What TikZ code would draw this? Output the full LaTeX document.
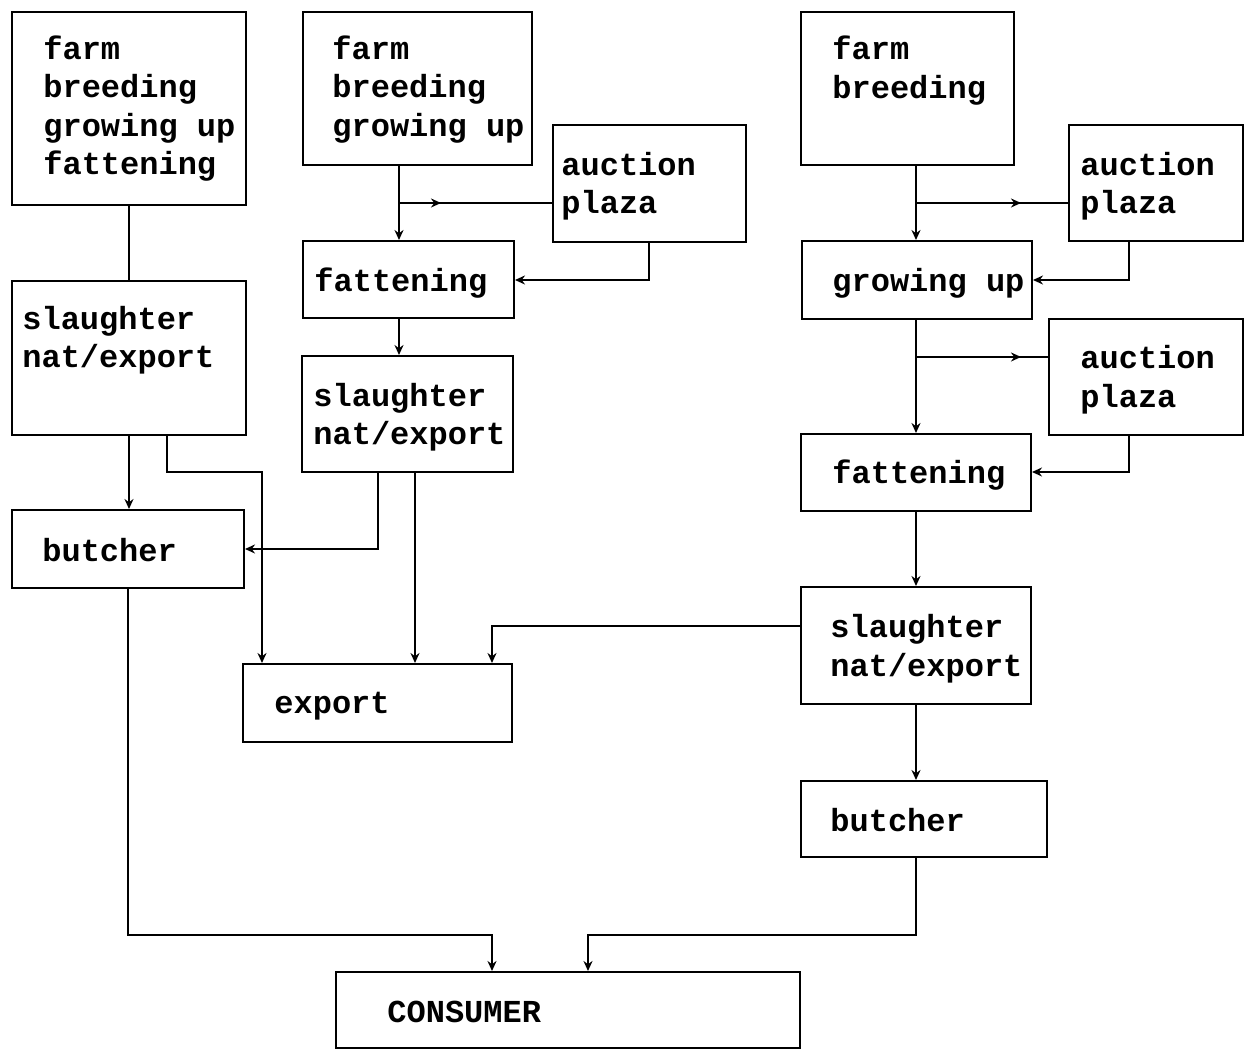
\documentclass[tikz,border=0pt]{standalone}
\usepackage{fontspec}
\newfontfamily\tyfont{Liberation Mono}
\usetikzlibrary{fit,arrows.meta}
\tikzset{
  bx/.style={draw, line width=1pt, inner sep=0pt},
  lbl/.style={font=\tyfont\bfseries\fontsize{16}{19.25}\selectfont, align=left, inner sep=0pt, anchor=west},
  wire/.style={line width=1pt},
  arw/.style={line width=1pt, -{Stealth[length=5pt,width=4.5pt]}},
}
\begin{document}
\begin{tikzpicture}[x=0.5pt,y=-0.5pt]
\useasboundingbox (0,0) rectangle (1244,1053);
% boxes
\node[bx, fit={(12,12) (246,205)}] (A) {};
\node[bx, fit={(303,12) (532,165)}] (B) {};
\node[bx, fit={(553,125) (746,242)}] (C) {};
\node[bx, fit={(303,241) (514,318)}] (D) {};
\node[bx, fit={(12,281) (246,435)}] (E) {};
\node[bx, fit={(302,356) (513,472)}] (F) {};
\node[bx, fit={(12,510) (244,588)}] (G) {};
\node[bx, fit={(243,664) (512,742)}] (H) {};
\node[bx, fit={(336,972) (800,1048)}] (I) {};
\node[bx, fit={(801,12) (1014,165)}] (J) {};
\node[bx, fit={(1069,125) (1243,241)}] (K) {};
\node[bx, fit={(802,241) (1032,319)}] (L) {};
\node[bx, fit={(1049,319) (1243,435)}] (M) {};
\node[bx, fit={(801,434) (1031,511)}] (N) {};
\node[bx, fit={(801,587) (1031,704)}] (O) {};
\node[bx, fit={(801,781) (1047,857)}] (P) {};
% labels
\node[lbl] (At) at (43,108.5) {farm\\breeding\\growing up\\fattening};
\node[lbl] (Bt) at (332,89.5) {farm\\breeding\\growing up};
\node[lbl] (Ct) at (561,186) {auction\\plaza};
\node[lbl] (Dt) at (314,283) {fattening};
\node[lbl] (Et) at (22,340) {slaughter\\nat/export};
\node[lbl] (Ft) at (313,417) {slaughter\\nat/export};
\node[lbl] (Gt) at (42,550) {butcher};
\node[lbl] (Ht) at (274,706) {export};
\node[lbl] (It) at (387,1012) {CONSUMER};
\node[lbl] (Jt) at (832,70.5) {farm\\breeding};
\node[lbl] (Kt) at (1080,186) {auction\\plaza};
\node[lbl] (Lt) at (832,283) {growing up};
\node[lbl] (Mt) at (1080,379.5) {auction\\plaza};
\node[lbl] (Nt) at (832,475) {fattening};
\node[lbl] (Ot) at (830,648.5) {slaughter\\nat/export};
\node[lbl] (Pt) at (830,820) {butcher};
% helper coordinates
\coordinate (eh1) at (167,472); \coordinate (eh2) at (262,472);
\coordinate (fg) at (378,549);
\coordinate (fh) at (415,600);
\coordinate (oh) at (492,626);
\coordinate (gi) at (492,935);
\coordinate (pi1) at (916,935); \coordinate (pi2) at (588,935);
\coordinate (bd) at (399,203); \coordinate (bdm) at (441,203);
\coordinate (cd) at (649,280);
\coordinate (jl) at (916,203); \coordinate (jlm) at (1021,203);
\coordinate (kl) at (1129,280);
\coordinate (lnc) at (916,357); \coordinate (lncm) at (1021,357);
\coordinate (mn) at (1129,472);
% left column
\draw[wire] (A.south) -- (E.north);
\draw[arw] (E.south) -- (E.south |- G.north);
\draw[arw] (E.south -| eh1) -- (eh1) -- (eh2) -- (eh2 |- H.north);
\draw[arw] (G.south) -- (G.south |- gi) -- (gi) -- (gi |- I.north);
% middle column
\draw[arw] (B.south -| bd) -- (bd |- D.north);
\draw[wire] (bd) -- (bd -| C.west);
\draw[arw] (bd) -- (bdm);
\draw[arw] (C.south -| cd) -- (cd) -- (cd -| D.east);
\draw[arw] (D.south -| bd) -- (bd |- F.north);
\draw[arw] (F.south -| fg) -- (fg) -- (fg -| G.east);
\draw[arw] (F.south -| fh) -- (fh |- H.north);
% right column
\draw[arw] (J.south -| jl) -- (jl |- L.north);
\draw[wire] (jl) -- (jl -| K.west);
\draw[arw] (jl) -- (jlm);
\draw[arw] (K.south -| kl) -- (kl) -- (kl -| L.east);
\draw[arw] (L.south -| lnc) -- (lnc |- N.north);
\draw[wire] (lnc) -- (lnc -| M.west);
\draw[arw] (lnc) -- (lncm);
\draw[arw] (M.south -| mn) -- (mn) -- (mn -| N.east);
\draw[arw] (N.south -| jl) -- (jl |- O.north);
\draw[arw] (O.west |- oh) -- (oh) -- (oh |- H.north);
\draw[arw] (O.south -| jl) -- (jl |- P.north);
\draw[arw] (P.south -| pi1) -- (pi1) -- (pi2) -- (pi2 |- I.north);
\end{tikzpicture}
\end{document}
